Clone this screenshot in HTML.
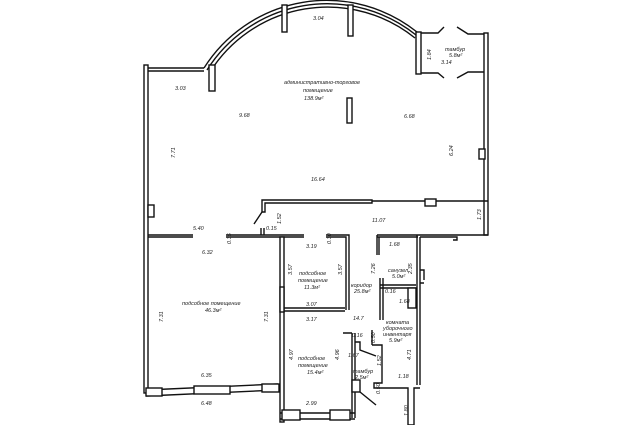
<!DOCTYPE html>
<html><head><meta charset="utf-8"><style>
html,body{margin:0;padding:0;background:#fff;}
svg{display:block}
text{font-family:"Liberation Sans",sans-serif;font-style:italic;font-size:5.5px;fill:#222}
</style></head><body>
<svg width="632" height="425" viewBox="0 0 632 425" xmlns="http://www.w3.org/2000/svg">
<g fill="none" stroke="#111" stroke-width="1.4">
<rect x="144" y="65" width="4" height="328" fill="#fff"/>
<path d="M148 68 L204 68 M148 71 L204 71"/>
<path d="M204 68 A145 145 0 0 1 417 32"/>
<path d="M207 70 A142 142 0 0 1 416 35"/>
<path d="M210 72 A139 139 0 0 1 415 38"/>
<rect x="416" y="32" width="5" height="42" fill="#fff"/>
<path d="M421 33 L438 33 L444 27 M421 73 L438 73 L444 78 M457 27 L468 34 L487 34 M457 78 L468 72 L487 72"/>
<rect x="484" y="33" width="4" height="202" fill="#fff"/>
<rect x="209" y="65" width="6" height="26" fill="#fff"/>
<rect x="282" y="5" width="5" height="27" fill="#fff"/>
<rect x="348" y="5" width="5" height="31" fill="#fff"/>
<rect x="347" y="98" width="5" height="25" fill="#fff"/>
<rect x="479" y="149" width="6" height="10" fill="#fff"/>
<rect x="148" y="205" width="6" height="12" fill="#fff"/>
<path d="M262 200 L372 200 L372 203 L265 203 L265 212 L262 212 Z M372 201 L488 201"/>
<rect x="425" y="199" width="11" height="7" fill="#fff"/>
<path d="M262 212 L254 224"/>
<path d="M148 235 L193 235 M148 237 L193 237"/>
<path d="M226 235 L304 235 M226 237 L304 237 M261 228 L261 235 M264 228 L264 235"/>
<path d="M326 235 L349 235 L349 310 M326 237 L346 237 L346 310"/>
<path d="M377 235 L418 235 M377 237 L418 237 M377 235 L377 255 M379 237 L379 255"/>
<path d="M418 235 L488 235 M420 237 L457 237 L457 240 L453 240"/>
<path d="M417 235 L417 385 M420 237 L420 385"/>
<rect x="280" y="237" width="4" height="185" fill="#fff"/>
<rect x="280" y="287" width="4" height="25" fill="#fff"/>
<path d="M284 308 L345 308 M284 311 L345 311"/>
<path d="M280 413 L355 413 M280 419 L355 419 M355 333 L355 418 M352 333 L352 418 M343 333 L352 333"/>
<rect x="282" y="410" width="18" height="10" fill="#fff"/>
<rect x="330" y="410" width="20" height="10" fill="#fff"/>
<rect x="352" y="380" width="8" height="12" fill="#fff"/>
<path d="M355 342 L360 342 L360 350 L376 356 M360 392 L376 405"/>
<path d="M146 390 L278 384 M146 396 L278 390"/>
<rect x="146" y="388" width="16" height="8" fill="#fff"/>
<rect x="194" y="386" width="36" height="8" fill="#fff"/>
<rect x="262" y="384" width="17" height="8" fill="#fff"/>
<path d="M380 278 L380 320 M383 278 L383 320 M380 285 L416 285 M380 288 L416 288"/>
<rect x="408" y="288" width="8" height="20" fill="#fff"/>
<path d="M372 345 L382 345 L382 383 L374 383 L374 388 L408 388 L408 425 L414 425 L414 388 L420 388"/>
<path d="M372 330 L372 345"/>
<path d="M420 270 L424 270 L424 280 M420 283 L424 283"/>
</g>
<text x="313" y="20">3.04</text>
<text x="175" y="90">3.03</text>
<text x="239" y="117">9.68</text>
<text x="404" y="118">6.68</text>
<text x="311" y="181">16.64</text>
<text x="372" y="222">11.07</text>
<text x="193" y="230">5.40</text>
<text x="202" y="254">6.32</text>
<text x="306" y="248">3.19</text>
<text x="389" y="246">1.68</text>
<text x="399" y="303">1.68</text>
<text x="306" y="306">3.07</text>
<text x="306" y="321">3.17</text>
<text x="353" y="320">14.7</text>
<text x="348" y="357">1.67</text>
<text x="398" y="378">1.18</text>
<text x="201" y="377">6.35</text>
<text x="201" y="405">6.48</text>
<text x="306" y="405">2.99</text>
<text x="266" y="230">0.15</text>
<text x="352" y="337">0.16</text>
<text x="385" y="293">0.16</text>
<g>
<text transform="translate(175,158) rotate(-90)">7.71</text>
<text transform="translate(453,156) rotate(-90)">6.24</text>
<text transform="translate(481,220) rotate(-90)">1.73</text>
<text transform="translate(281,224) rotate(-90)">1.52</text>
<text transform="translate(331,244) rotate(-90)">0.30</text>
<text transform="translate(231,244) rotate(-90)">0.35</text>
<text transform="translate(292,275) rotate(-90)">3.57</text>
<text transform="translate(342,275) rotate(-90)">3.57</text>
<text transform="translate(163,322) rotate(-90)">7.31</text>
<text transform="translate(268,322) rotate(-90)">7.31</text>
<text transform="translate(293,360) rotate(-90)">4.97</text>
<text transform="translate(339,360) rotate(-90)">4.96</text>
<text transform="translate(375,274) rotate(-90)">7.26</text>
<text transform="translate(412,274) rotate(-90)">2.35</text>
<text transform="translate(375,343) rotate(-90)">0.50</text>
<text transform="translate(381,366) rotate(-90)">1.52</text>
<text transform="translate(411,360) rotate(-90)">4.71</text>
<text transform="translate(380,394) rotate(-90)">0.50</text>
<text transform="translate(408,416) rotate(-90)">1.80</text>
<text transform="translate(431,60) rotate(-90)">1.84</text>
</g>
<text x="284" y="84" font-size="6">административно-торговое</text>
<text x="303" y="92" font-size="6">помещение</text>
<text x="304" y="100" font-size="6">138.9м²</text>
<text x="445" y="51">тамбур</text>
<text x="449" y="57">5.8м²</text>
<text x="441" y="64">3.14</text>
<text x="299" y="275">подсобное</text>
<text x="298" y="282">помещение</text>
<text x="304" y="289">11.3м²</text>
<text x="182" y="305">подсобное помещение</text>
<text x="205" y="312">46.3м²</text>
<text x="298" y="360">подсобное</text>
<text x="298" y="367">помещение</text>
<text x="307" y="374">15.4м²</text>
<text x="351" y="287">коридор</text>
<text x="354" y="293">25.8м²</text>
<text x="388" y="272">санузел</text>
<text x="392" y="278">5.0м²</text>
<text x="386" y="324">комната</text>
<text x="383" y="330">уборочного</text>
<text x="383" y="336">инвентаря</text>
<text x="389" y="342">5.9м²</text>
<text x="353" y="373">тамбур</text>
<text x="355" y="379">2.5м²</text>
</svg>
</body></html>
